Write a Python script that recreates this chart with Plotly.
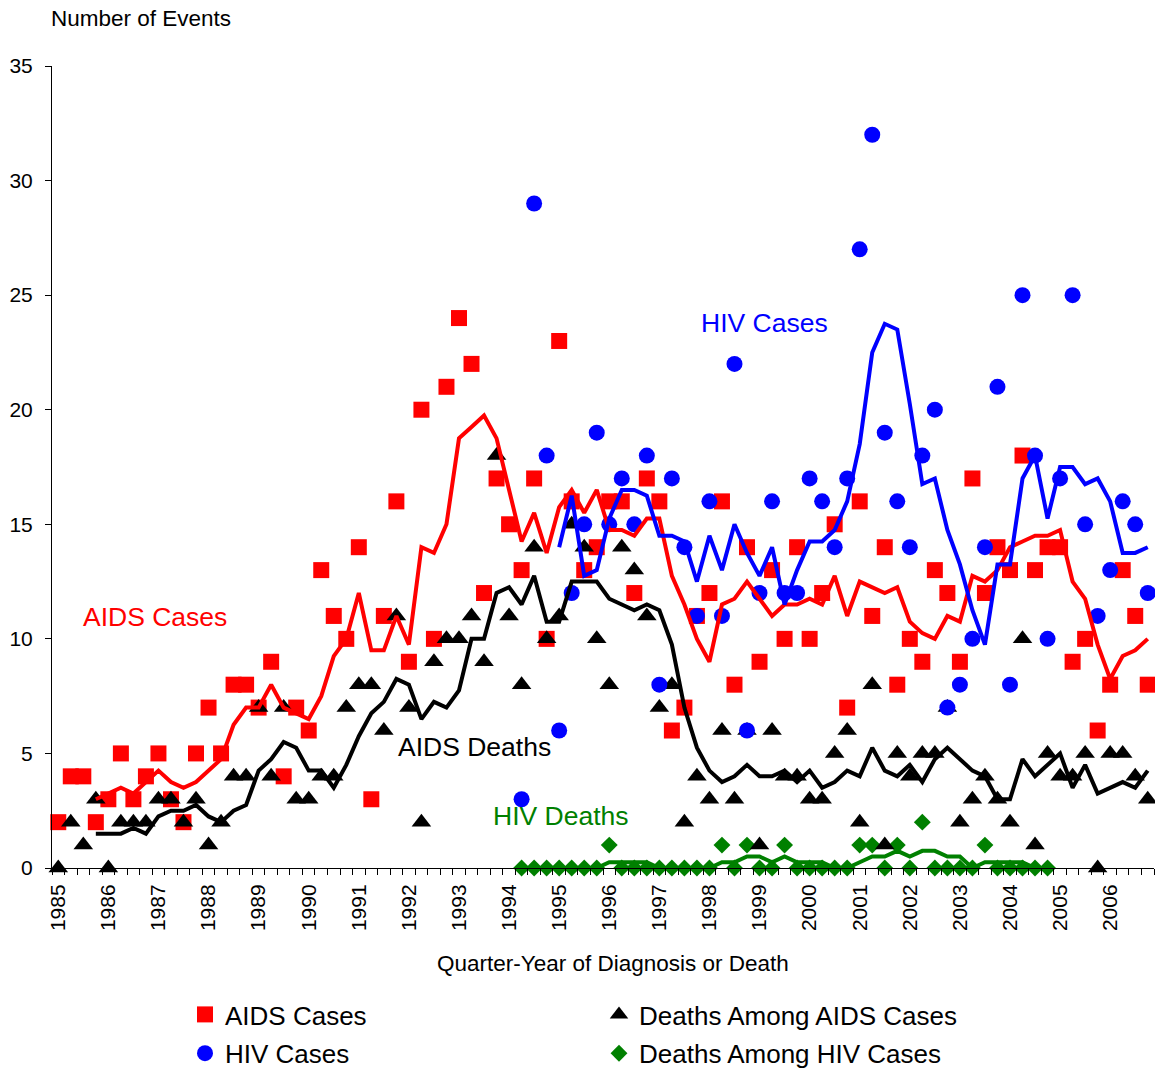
import plotly.graph_objects as go

# ---------------- data ----------------
years = list(range(1985, 2007))
quarters = [f"{y} Q{q}" for y in years for q in (1, 2, 3, 4)]
year_alias = {f"{y} Q1": str(y) for y in years}

# quarterly counts, 1985 Q1 - 2006 Q4
aids_cases = [2, 4, 4, 2, 3, 5, 3, 4, 5, 3, 2, 5, 7, 5, 8, 8,
              7, 9, 4, 7, 6, 13, 11, 10, 14, 3, 11, 16, 9, 20,
              10, 21, 24, 22, 12, 17, 15, 13, 17, 10, 23, 16, 13, 14, 16, 16,
              12, 17, 16, 6, 7, 11, 12, 16, 8, 14, 9, 13, 10, 14,
              10, 12, 15, 7, 16, 11, 14, 8, 10, 9, 13, 12, 9, 17,
              12, 14, 13, 18, 13, 14, 14, 9, 10, 6, 8, 13, 11, 8]
aids_deaths = [0, 2, 1, 3, 0, 2, 2, 2, 3, 3, 2, 3, 1, 2, 4, 4,
               7, 4, 7, 3, 3, 4, 4, 7, 8, 8, 6, 11, 7, 2,
               9, 10, 10, 11, 9, 18, 11, 8, 14, 10, 11, 15, 14, 10, 8, 14,
               13, 11, 7, 8, 2, 4, 3, 6, 3, 6, 1, 6, 4, 4,
               3, 3, 5, 6, 2, 8, 1, 5, 4, 5, 5, 7, 2, 3,
               4, 3, 2, 10, 1, 5, 4, 4, 5, 0, 5, 5, 4, 3]
# 1994 Q2 - 2006 Q4
hiv_cases = [3, 29, 18, 6, 12, 15, 19, 15, 17, 15, 18, 8, 17, 14, 11, 16, 11,
             22, 6, 12, 16, 12, 12, 17, 16, 14, 17, 27, 32, 19, 16, 14, 18,
             20, 7, 8, 10, 14, 21, 8, 25, 18, 10, 17, 25, 15, 11, 13, 16, 15, 12]
# 1994 Q2 - 2004 Q4
hiv_deaths = [0, 0, 0, 0, 0, 0, 0, 1, 0, 0, 0, 0, 0, 0, 0, 0, 1, 0, 1, 0, 0, 1,
              0, 0, 0, 0, 0, 1, 1, 0, 1, 0, 2, 0, 0, 0, 0, 1, 0, 0, 0, 0, 0]

# 4-quarter moving averages as drawn in the chart
# 1985 Q4 - 2006 Q4
aids_cases_ma = [3, 3.25, 3.5, 3.25, 3.75, 4.25, 3.75, 3.5, 3.75, 4.25, 4.75, 6.25, 7, 7, 8, 7, 6.75,
                 6.5, 7.5, 9.25, 10, 12, 9.5, 9.5, 11, 9.75, 14, 13.75, 15, 18.75, 19.25, 19.75,
                 18.75, 16.5, 14.25, 15.5, 13.75,
                 15.75, 16.5, 15.5, 16.5, 14.75, 14.75, 14.5, 15.25, 15.25, 12.75, 11.5, 10, 9,
                 11.5, 11.75, 12.5, 11.75, 11, 11.5, 11.5,
                 11.75, 11.5, 12.75, 11, 12.5, 12.25, 12, 12.25, 10.75, 10.25, 10, 11, 10.75,
                 12.75, 12.5, 13, 14, 14.25, 14.5, 14.5,
                 14.75, 12.5, 11.75, 9.75, 8.25, 9.25, 9.5, 10]
aids_deaths_ma = [1.5, 1.5, 1.5, 1.75, 1.5, 2.25, 2.5, 2.5, 2.75, 2.25, 2, 2.5, 2.75, 4.25, 4.75, 5.5, 5.25,
                  4.25, 4.25, 3.5, 4.5, 5.75, 6.75, 7.25, 8.25, 8, 6.5, 7.25, 7, 7.75, 10, 10,
                  12, 12.25, 11.5, 12.75, 10.75,
                  10.75, 12.5, 12.5, 12.5, 11.75, 11.5, 11.25, 11.5, 11.25, 9.75, 7, 5.25, 4.25,
                  3.75, 4, 4.5, 4, 4, 4.25, 3.75,
                  4.25, 3.5, 3.75, 4.25, 4, 5.25, 4.25, 4, 4.5, 3.75, 4.75, 5.25, 4.75, 4.25,
                  4, 3, 3, 4.75, 4, 4.5,
                  5, 3.5, 4.5, 3.25, 3.5, 3.75, 3.5, 4.25]
# 1995 Q1 - 2006 Q4
hiv_cases_ma = [14, 16.25, 12.75, 13, 15.25, 16.5, 16.5, 16.25, 14.5, 14.5, 14.25, 12.5,
                14.5, 13, 15, 13.75, 12.75, 14, 11.5, 13, 14.25, 14.25, 14.75, 16,
                18.5, 22.5, 23.75, 23.5, 20.25, 16.75, 17, 14.75, 13.25, 11.25, 9.75, 13.25,
                13.25, 17, 18, 15.25, 17.5, 17.5, 16.75, 17, 16, 13.75, 13.75, 14]
# 1995 Q1 - 2004 Q4
hiv_deaths_ma = [0, 0, 0, 0, 0.25, 0.25, 0.25, 0.25, 0, 0, 0, 0, 0,
                 0.25, 0.25, 0.5, 0.5, 0.25, 0.5, 0.25, 0.25, 0.25, 0, 0,
                 0.25, 0.5, 0.5, 0.75, 0.5, 0.75, 0.75, 0.5, 0.5, 0,
                 0.25, 0.25, 0.25, 0.25, 0, 0]

i_aids_ma = quarters.index("1985 Q4")
i_hiv = quarters.index("1994 Q2")
i_hiv_ma = quarters.index("1995 Q1")
x_aids = quarters
x_aids_ma = quarters[i_aids_ma:i_aids_ma + len(aids_cases_ma)]
x_hiv = quarters[i_hiv:i_hiv + len(hiv_cases)]
x_hivd = quarters[i_hiv:i_hiv + len(hiv_deaths)]
x_hiv_ma = quarters[i_hiv_ma:i_hiv_ma + len(hiv_cases_ma)]
x_hivd_ma = quarters[i_hiv_ma:i_hiv_ma + len(hiv_deaths_ma)]

# ---------------- styling ----------------
FONT = "Arial, 'Liberation Sans', sans-serif"
RED, BLUE, BLACK, GREEN = "#FF0000", "#0000FF", "#000000", "#008000"

# plot area in pixels
W, H = 1155, 1072
ML, MR, MT, MB = 52, 1, 66, 204
PW, PH = W - ML - MR, H - MT - MB

fig = go.Figure()

fig.add_trace(go.Scatter(x=x_aids, y=aids_cases, mode="markers", name="AIDS Cases",
                         marker=dict(symbol="square", size=16, color=RED, line=dict(width=0)),
                         cliponaxis=False, legend="legend", legendgroup="a", legendrank=1))
fig.add_trace(go.Scatter(x=x_hivd, y=hiv_deaths, mode="markers", name="Deaths Among HIV Cases",
                         marker=dict(symbol="diamond", size=13, color=GREEN, line=dict(width=0)),
                         cliponaxis=False, legend="legend2", legendgroup="d", legendrank=2))
fig.add_trace(go.Scatter(x=x_aids, y=aids_deaths, mode="markers", name="Deaths Among AIDS Cases",
                         marker=dict(symbol="triangle-up", size=17, color=BLACK, line=dict(width=0)),
                         cliponaxis=False, legend="legend2", legendgroup="c", legendrank=1))
fig.add_trace(go.Scatter(x=x_hiv, y=hiv_cases, mode="markers", name="HIV Cases",
                         marker=dict(symbol="circle", size=16, color=BLUE, line=dict(width=0)),
                         cliponaxis=False, legend="legend", legendgroup="b", legendrank=2))

for xs, ys, col in [(x_aids_ma, aids_cases_ma, RED), (x_aids_ma, aids_deaths_ma, BLACK),
                    (x_hiv_ma, hiv_cases_ma, BLUE), (x_hivd_ma, hiv_deaths_ma, GREEN)]:
    fig.add_trace(go.Scatter(x=xs, y=ys, mode="lines", line=dict(color=col, width=4),
                             showlegend=False, hoverinfo="skip", cliponaxis=False))


def px_ann(text, px, py, size, color, xanchor="left"):
    return dict(text=text, xref="paper", yref="paper", x=0, y=0,
                xshift=px - ML, yshift=(H - MB) - py, xanchor=xanchor, yanchor="middle",
                showarrow=False, font=dict(family=FONT, size=size, color=color))


annotations = [
    px_ann("Number of Events", 49, 18, 22.5, BLACK),
    px_ann("Quarter-Year of Diagnosis or Death", 613, 963, 22.5, BLACK, xanchor="center"),
    px_ann("AIDS Cases", 81, 617, 26.5, RED),
    px_ann("HIV Cases", 699, 323, 26.5, BLUE),
    px_ann("AIDS Deaths", 396, 747, 26.5, BLACK),
    px_ann("HIV Deaths", 491, 816, 26.5, GREEN),
]

leg_common = dict(xanchor="left", yanchor="top", orientation="v", bgcolor="rgba(0,0,0,0)",
                  borderwidth=0, tracegroupgap=2, font=dict(family=FONT, size=26, color=BLACK))

fig.update_layout(
    width=W, height=H,
    margin=dict(l=ML, r=MR, t=MT, b=MB, autoexpand=False),
    paper_bgcolor="white", plot_bgcolor="white",
    font=dict(family=FONT, color=BLACK, size=21),
    showlegend=True,
    xaxis=dict(type="category", categoryorder="array", categoryarray=quarters,
               range=[-0.5, len(quarters) - 0.5], tickmode="linear", tick0=0, dtick=1,
               ticklabelstep=4, labelalias=year_alias, tickson="boundaries",
               ticks="outside", ticklen=6, tickwidth=1, tickcolor=BLACK,
               tickangle=-90, tickfont=dict(family=FONT, size=21, color=BLACK),
               showline=True, linecolor=BLACK, linewidth=1, showgrid=False, zeroline=False,
               ticklabelstandoff=7, fixedrange=True),
    yaxis=dict(range=[0, 35], tickmode="linear", tick0=0, dtick=5,
               ticks="outside", ticklen=6, tickwidth=1, tickcolor=BLACK,
               tickfont=dict(family=FONT, size=21, color=BLACK),
               showline=True, linecolor=BLACK, linewidth=1, showgrid=False, zeroline=False,
               ticklabelstandoff=8, fixedrange=True),
    legend=dict(x=(185 - ML) / PW, y=(H - MB - 991) / PH, **leg_common),
    legend2=dict(x=(599 - ML) / PW, y=(H - MB - 991) / PH, **leg_common),
    annotations=annotations,
)

fig.write_html("out.html", config={"displayModeBar": False},
               post_script="document.body.style.margin='0';")
